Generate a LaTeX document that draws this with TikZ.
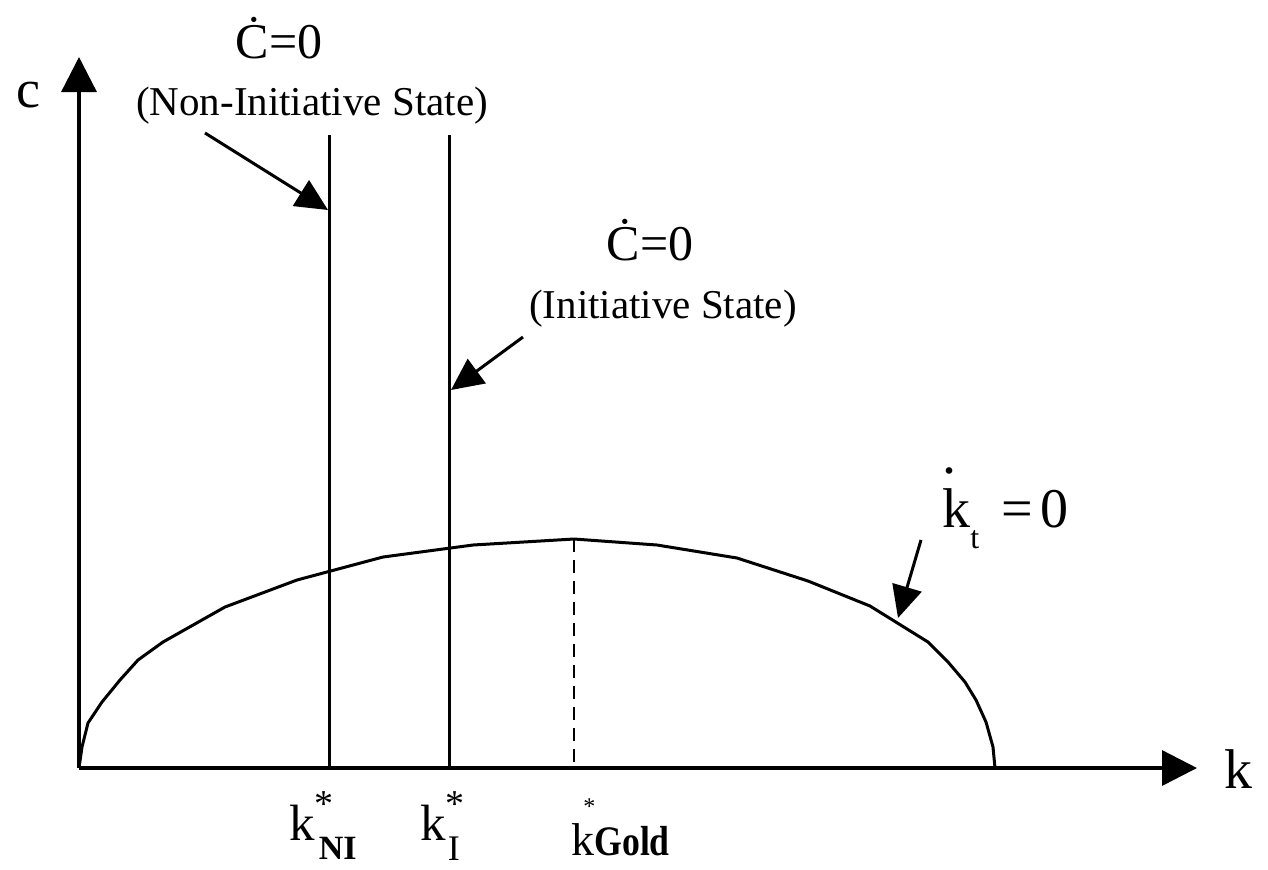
\documentclass[tikz,border=0pt]{standalone}
\usepackage{fontspec}
\setmainfont{Liberation Serif}
\usetikzlibrary{arrows.meta}
\newcommand{\fs}[1]{\fontsize{#1}{#1}\selectfont}
\begin{document}
\begin{tikzpicture}[x=0.5pt,y=-0.5pt,
  thin line/.style={line width=1.5pt},
  curve/.style={line width=1.5pt,line join=round},
  guide/.style={line width=1.3pt,dash pattern=on 6.5pt off 4pt},
  axis/.style={line width=1.7pt,-{Triangle[length=17.5pt,width=17.5pt]}},
  pointer/.style={line width=1.5pt,-{Triangle[length=16pt,width=15pt]}},
  lbl/.style={inner sep=0pt,anchor=base}]
\useasboundingbox (0,0) rectangle (1268,869);

% axes
\coordinate (O) at (79,768);
\coordinate (ytip) at (79,57);
\coordinate (xtip) at (1197,768);
\draw[axis] (O) -- (ytip);
\draw[axis] (O) -- (xtip);

% vertical c-dot = 0 lines
\coordinate (niB) at (329,768);
\coordinate (niT) at (329,135);
\coordinate (iB) at (449,768);
\coordinate (iT) at (449,135);
\draw[thin line] (niB) -- (niT);
\draw[thin line] (iB) -- (iT);

% k-dot = 0 curve
\coordinate (peak) at (574,539);
\coordinate (gold) at (574,768);
\draw[curve] (79,768) -- (82,747) -- (88,723) -- (102,702) -- (120,680) -- (138,660)
  -- (163,642) -- (225,607) -- (297,580) -- (383,557) -- (473,545) -- (peak)
  -- (657,545) -- (737,558) -- (808,581) -- (870,606) -- (928,642) -- (948,662)
  -- (965,682) -- (976,700) -- (986,722) -- (993,747) -- (995,768);
\draw[guide] (peak) -- (gold);

% labels
\node[lbl] (cdot1) at (279,58) {\fs{25}Ċ=0};
\node[lbl] (nis) at (312,115) {\fs{20.5}(Non-Initiative State)};
\node[lbl] (cdot2) at (650,260) {\fs{25}Ċ=0};
\node[lbl] (is) at (663,318) {\fs{20.5}(Initiative State)};
\node[lbl] (clab) at (28,107) {\fs{27}c};
\node[lbl,anchor=base west] (klab) at (1224,788) {\fs{28}k};
\node[lbl,anchor=base west] (kdot) at (942,527)
  {\fs{28}\rlap{\raisebox{27pt}{.}}k\raisebox{-10.5pt}{\fs{16}t}\hspace{11pt}=\hspace{4pt}0};
\node[lbl,anchor=base west] (kni) at (289,840)
  {\fs{25.5}k\rlap{\raisebox{12pt}{\fs{19}*}}\hspace{2pt}\raisebox{-9.5pt}{\fs{17}\bfseries NI}};
\node[lbl,anchor=base west] (ki) at (420,840)
  {\fs{25.5}k\rlap{\raisebox{12pt}{\fs{19}*}}\hspace{1pt}\raisebox{-10pt}{\fs{18}I}};
\node[lbl,anchor=base west] (kgold) at (571,855)
  {\fs{23}\rlap{\hspace{6pt}\raisebox{20.5pt}{\fs{12}*}}k\scalebox{0.85}[1]{\fs{21}\bfseries Gold}};

% pointers
\coordinate (p1s) at (205,133);
\coordinate (p1e) at (328,210);
\coordinate (p2s) at (523,337);
\coordinate (p2e) at (451,390);
\coordinate (p3s) at (921,540);
\coordinate (p3e) at (898,618);
\draw[pointer] (p1s) -- (p1e);
\draw[pointer] (p2s) -- (p2e);
\draw[pointer] (p3s) -- (p3e);
\end{tikzpicture}
\end{document}
